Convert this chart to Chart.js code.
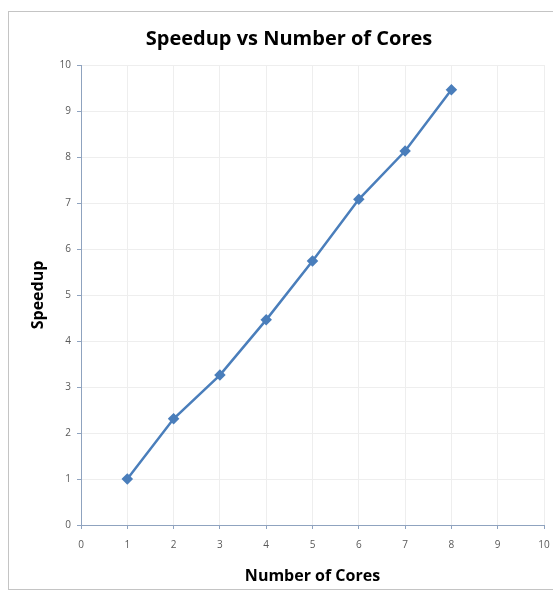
<!DOCTYPE html>
<html>
<head>
<meta charset="utf-8">
<script src="https://cdn.jsdelivr.net/npm/chart.js@4.4.0/dist/chart.umd.min.js"></script>
<style>
  body { margin: 0; background: #fff; }
  #frame {
    position: absolute; left: 8px; top: 11px; width: 570px; height: 579px;
    border: 1px solid #c4c4c4; box-sizing: border-box;
  }
  #wrap { position: absolute; left: 0; top: 0; width: 553px; height: 596px; }
</style>
</head>
<body>
<div id="frame"></div>
<div id="wrap"><canvas id="speedChart" width="553" height="596"></canvas></div>
<script>
// Values
const cores = [1, 2, 3, 4, 5, 6, 7, 8];
const speedup = [1, 2.31, 3.26, 4.46, 5.74, 7.08, 8.13, 9.46];

const axisColor = '#8fa3bf';
const gridColor = '#eeeeee';
const lineColor = '#4a7ebb';
const font = "'Open Sans', 'Noto Sans', sans-serif";

const points = cores.map((c, i) => ({ x: c, y: speedup[i] }));

const ctx = document.getElementById('speedChart').getContext('2d');
const speedChart = new Chart(ctx, {
    type: 'line',
    data: {
        datasets: [{
            label: 'Speedup',
            data: points,
            borderColor: lineColor,
            backgroundColor: lineColor,
            borderWidth: 2.5,
            pointStyle: 'rectRot',
            pointRadius: 4,
            pointHoverRadius: 4,
            fill: false,
            tension: 0
        }]
    },
    options: {
        responsive: false,
        animation: false,
        layout: {
            padding: { left: 25, right: 0, top: 22, bottom: 6 }
        },
        plugins: {
            legend: { display: false },
            tooltip: { enabled: false },
            title: {
                display: true,
                text: 'Speedup vs Number of Cores',
                color: '#000',
                font: { family: font, size: 20, weight: 'bold' },
                padding: { top: 5, bottom: 14 }
            }
        },
        scales: {
            x: {
                type: 'linear',
                min: 0,
                max: 10,
                ticks: {
                    stepSize: 1,
                    color: '#595959',
                    font: { family: font, size: 10 },
                    padding: 10
                },
                grid: { color: gridColor, tickColor: axisColor, tickLength: 4 },
                border: { color: axisColor, width: 1 },
                title: {
                    display: true,
                    text: 'Number of Cores',
                    color: '#000',
                    font: { family: font, size: 16, weight: 'bold' },
                    padding: { top: 12 }
                },
                afterFit: function (scale) {
                    scale.height = 65;
                    scale.paddingLeft = 0;
                    scale.paddingRight = 9;
                }
            },
            y: {
                min: 0,
                max: 10,
                ticks: {
                    stepSize: 1,
                    color: '#595959',
                    font: { family: font, size: 10 },
                    padding: 6
                },
                grid: { color: gridColor, tickColor: axisColor, tickLength: 4 },
                border: { color: axisColor, width: 1 },
                title: {
                    display: true,
                    text: 'Speedup',
                    color: '#000',
                    font: { family: font, size: 16, weight: 'bold' },
                    padding: { bottom: 14 }
                },
                afterFit: function (scale) { scale.width = 56; }
            }
        }
    }
});
</script>
</body>
</html>
